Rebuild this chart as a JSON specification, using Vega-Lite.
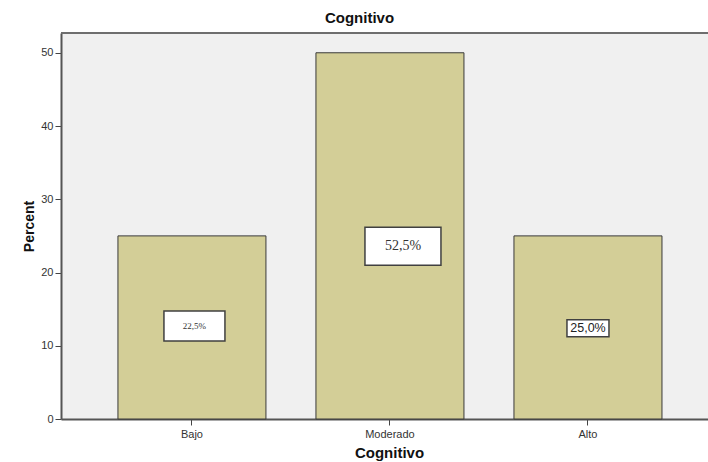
{
  "$schema": "https://vega.github.io/schema/vega-lite/v6.json",
  "autosize": "none",
  "width": 647,
  "height": 386,
  "padding": {"left": 61, "top": 33, "right": 0, "bottom": 43},
  "background": "white",
  "config": {
    "view": {"fill": "#f0f0f0", "stroke": null},
    "font": "Liberation Sans"
  },
  "title": {
    "text": "Cognitivo",
    "font": "Liberation Sans",
    "fontSize": 15,
    "fontWeight": "bold",
    "color": "#111",
    "offset": 6,
    "dx": -25
  },
  "datasets": {
    "cog": [
      {"Cognitivo": "Bajo", "Percent": 25, "label": "22,5%", "labelPos": 12.7},
      {"Cognitivo": "Moderado", "Percent": 50, "label": "52,5%", "labelPos": 23.6},
      {"Cognitivo": "Alto", "Percent": 25, "label": "25,0%", "labelPos": 12.4}
    ],
    "frame": [{"top": 52.7}]
  },
  "layer": [
    {
      "data": {"name": "frame"},
      "mark": {"type": "rule", "color": "#6e6e6e", "strokeWidth": 2},
      "encoding": {"y": {"field": "top", "type": "quantitative", "scale": {"domain": [0, 52.7], "nice": false}}}
    },
    {
      "data": {"name": "cog"},
      "layer": [
        {
          "mark": {"type": "bar", "fill": "#d3ce97", "stroke": "#3a3a3a", "strokeWidth": 1},
          "encoding": {
            "x": {
              "field": "Cognitivo",
              "type": "nominal",
              "sort": null,
              "scale": {"paddingInner": 0.2525, "paddingOuter": 0.26, "align": 0.553},
              "axis": {
                "title": "Cognitivo",
                "titleX": 328,
                "titleFont": "Liberation Sans",
                "titleFontSize": 15,
                "titleFontWeight": "bold",
                "titleColor": "#111",
                "titlePadding": 6,
                "labelAngle": 0,
                "labelFont": "Liberation Sans",
                "labelFontSize": 11,
                "labelColor": "#333",
                "labelPadding": 3,
                "tickSize": 6,
                "tickColor": "#444",
                "domainColor": "#555",
                "domainWidth": 2
              }
            },
            "y": {
              "field": "Percent",
              "type": "quantitative",
              "scale": {"domain": [0, 52.7], "nice": false},
              "axis": {
                "title": "Percent",
                "values": [0, 10, 20, 30, 40, 50],
                "grid": false,
                "titleFont": "Liberation Sans",
                "titleFontSize": 14,
                "titleFontWeight": "bold",
                "titleColor": "#111",
                "titlePadding": 4,
                "labelFont": "Liberation Sans",
                "labelFontSize": 11,
                "labelColor": "#333",
                "labelPadding": 2,
                "tickSize": 6,
                "tickColor": "#444",
                "domainColor": "#555",
                "domainWidth": 2
              }
            }
          }
        },
        {
          "transform": [{"filter": "datum.Cognitivo === 'Bajo'"}],
          "mark": {"type": "point", "shape": "M-1,-0.49H1V0.49H-1Z", "size": 3721, "filled": true, "fill": "white", "stroke": "#404040", "strokeWidth": 1.5, "opacity": 1, "xOffset": 2.5},
          "encoding": {"x": {"field": "Cognitivo", "type": "nominal", "sort": null}, "y": {"field": "labelPos", "type": "quantitative"}}
        },
        {
          "transform": [{"filter": "datum.Cognitivo === 'Bajo'"}],
          "mark": {"type": "text", "font": "Liberation Serif", "fontSize": 9, "color": "#333", "xOffset": 2.5},
          "encoding": {"x": {"field": "Cognitivo", "type": "nominal", "sort": null}, "y": {"field": "labelPos", "type": "quantitative"}, "text": {"field": "label"}}
        },
        {
          "transform": [{"filter": "datum.Cognitivo === 'Moderado'"}],
          "mark": {"type": "point", "shape": "M-1,-0.5H1V0.5H-1Z", "size": 5776, "filled": true, "fill": "white", "stroke": "#404040", "strokeWidth": 1.5, "opacity": 1, "xOffset": 13},
          "encoding": {"x": {"field": "Cognitivo", "type": "nominal", "sort": null}, "y": {"field": "labelPos", "type": "quantitative"}}
        },
        {
          "transform": [{"filter": "datum.Cognitivo === 'Moderado'"}],
          "mark": {"type": "text", "font": "Liberation Serif", "fontSize": 14, "color": "#333", "xOffset": 13},
          "encoding": {"x": {"field": "Cognitivo", "type": "nominal", "sort": null}, "y": {"field": "labelPos", "type": "quantitative"}, "text": {"field": "label"}}
        },
        {
          "transform": [{"filter": "datum.Cognitivo === 'Alto'"}],
          "mark": {"type": "point", "shape": "M-1,-0.405H1V0.405H-1Z", "size": 1764, "filled": true, "fill": "white", "stroke": "#404040", "strokeWidth": 1.5, "opacity": 1},
          "encoding": {"x": {"field": "Cognitivo", "type": "nominal", "sort": null}, "y": {"field": "labelPos", "type": "quantitative"}}
        },
        {
          "transform": [{"filter": "datum.Cognitivo === 'Alto'"}],
          "mark": {"type": "text", "font": "Liberation Sans", "fontSize": 12.5, "color": "#222"},
          "encoding": {"x": {"field": "Cognitivo", "type": "nominal", "sort": null}, "y": {"field": "labelPos", "type": "quantitative"}, "text": {"field": "label"}}
        }
      ]
    }
  ]
}
